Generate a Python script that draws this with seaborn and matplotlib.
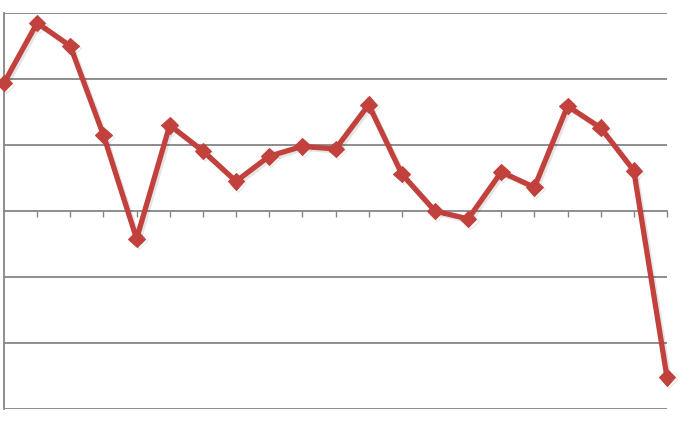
import numpy as np
import pandas as pd
import matplotlib
matplotlib.use("Agg")
import matplotlib.pyplot as plt
import matplotlib.patheffects as pe
import seaborn as sns

# Valores (unidad = una linea de la cuadricula)
periodos = list(range(21))
valores = [1.94, 2.85, 2.50, 1.15, -0.42, 1.30, 0.91, 0.45, 0.83, 0.98, 0.94,
           1.61, 0.56, 0.00, -0.12, 0.59, 0.36, 1.59, 1.26, 0.61, -2.52]
ticks_y = [-3, -2, -1, 0, 1, 2, 3]

df = pd.DataFrame({"periodo": periodos, "valor": valores})

sns.set_style("white")
fig = plt.figure(figsize=(7, 4.33), dpi=100)
ax = fig.add_axes([4 / 700, 24 / 433, 663 / 700, 396 / 433])

gris = "#858585"
for y in ticks_y:
    if y != 0:
        ax.axhline(y, color=gris, lw=1.3, zorder=1)

rojo = "#c2413d"
sns.lineplot(data=df, x="periodo", y="valor", ax=ax, color=rojo, lw=3.8,
             marker="D", markersize=8.5, markeredgecolor=rojo, zorder=3,
             clip_on=False,
             path_effects=[pe.SimpleLineShadow(offset=(1.5, -1.5), alpha=0.1),
                           pe.Normal()])

ax.set_xlim(0, 20)
ax.set_ylim(-3, 3)
ax.set_yticks([])
ax.set_xticks(periodos[1:])
ax.set_xticklabels([])
ax.set_xlabel("")
ax.set_ylabel("")

for s in ["top", "right"]:
    ax.spines[s].set_visible(False)
ax.spines["bottom"].set_position(("data", 0))
ax.spines["bottom"].set_color(gris)
ax.spines["bottom"].set_linewidth(1.3)
ax.spines["left"].set_color(gris)
ax.spines["left"].set_linewidth(1.3)
ax.tick_params(axis="x", direction="out", length=4, width=1, color=gris,
               bottom=True)
ax.patch.set_alpha(0)

fig.savefig("out.png", dpi=100)
